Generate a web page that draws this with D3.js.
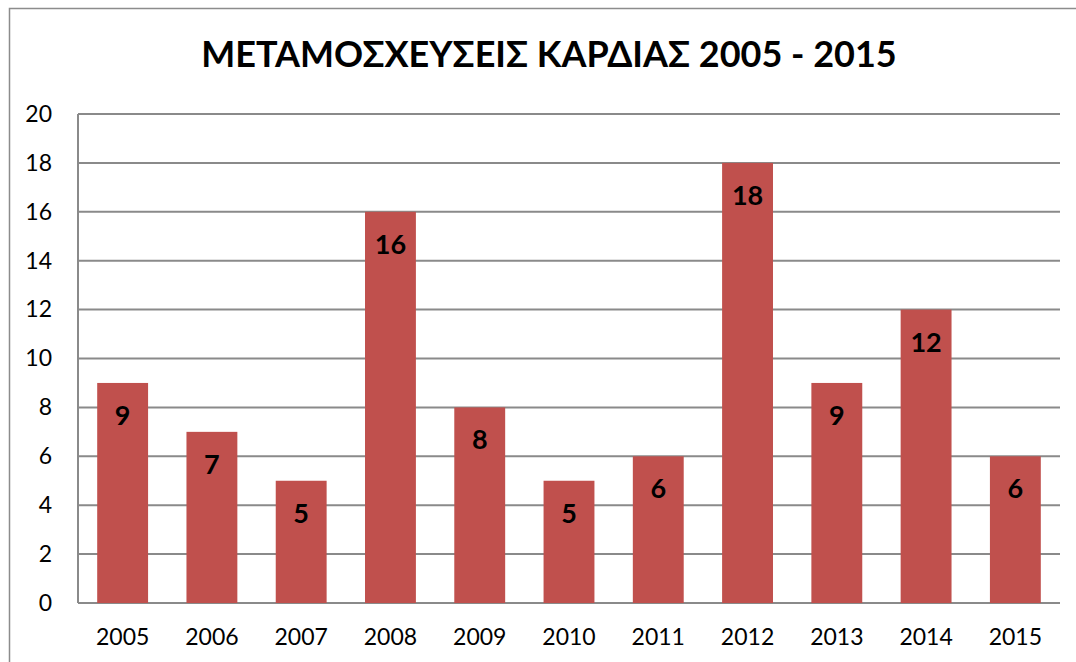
<!DOCTYPE html>
<html><head><meta charset="utf-8">
<script src="https://cdn.jsdelivr.net/npm/d3@7"></script>
<style>body{margin:0;background:#fff}svg{display:block}text{font-family:Lato,"Noto Sans",sans-serif}</style>
</head><body><svg id="c" width="1076" height="662"></svg>
<script>
const years = ["2005","2006","2007","2008","2009","2010","2011","2012","2013","2014","2015"];
const values = [9,7,5,16,8,5,6,18,9,12,6];
const yTicks = [0,2,4,6,8,10,12,14,16,18,20];
const title = "ΜΕΤΑΜΟΣΧΕΥΣΕΙΣ ΚΑΡΔΙΑΣ 2005 - 2015";

const svg = d3.select("#c");
const L=78, R=1060, T=114, B=603;
svg.append("rect").attr("x",9.5).attr("y",8.5).attr("width",1100).attr("height",700)
  .attr("fill","none").attr("stroke","#8c8c8c").attr("stroke-width",1.5);

const x = d3.scaleBand().domain(years).range([L,R]).paddingInner(0.43).paddingOuter(0.215);
const y = d3.scaleLinear().domain([0,20]).range([B,T]);

const g = svg.append("g");
g.selectAll("line.grid").data(yTicks).join("line").attr("class","grid")
  .attr("x1",L).attr("x2",R).attr("y1",d=>y(d)).attr("y2",d=>y(d))
  .attr("stroke","#8a8a8a").attr("stroke-width",2);

g.selectAll("rect.bar").data(values).join("rect").attr("class","bar")
  .attr("x",(d,i)=>x(years[i])).attr("width",x.bandwidth())
  .attr("y",d=>y(d)).attr("height",d=>B-y(d)).attr("fill","#C0504D");

svg.append("line").attr("x1",L).attr("x2",L).attr("y1",T).attr("y2",B)
  .attr("stroke","#8a8a8a").attr("stroke-width",2);

const ya = d3.axisLeft(y).tickValues(yTicks).tickSize(0).tickPadding(0);
svg.append("g").attr("transform","translate(52,0)").call(ya)
  .call(s=>s.select(".domain").remove())
  .selectAll("text").attr("font-size",23).attr("fill","#000").attr("font-family","Lato");

const xa = d3.axisBottom(x).tickSize(0).tickPadding(0);
svg.append("g").attr("transform","translate(0,629)").call(xa)
  .call(s=>s.select(".domain").remove())
  .selectAll("text").attr("font-size",23).attr("fill","#000").attr("font-family","Lato");

g.selectAll("text.val").data(values).join("text").attr("class","val")
  .attr("x",(d,i)=>x(years[i])+x.bandwidth()/2).attr("y",d=>y(d)+42)
  .attr("text-anchor","middle").attr("font-size",27).attr("font-weight","bold").text(d=>d);

svg.append("text").attr("x",549).attr("y",67).attr("text-anchor","middle")
  .attr("font-size",36).attr("font-weight","bold").text(title);
</script></body></html>
